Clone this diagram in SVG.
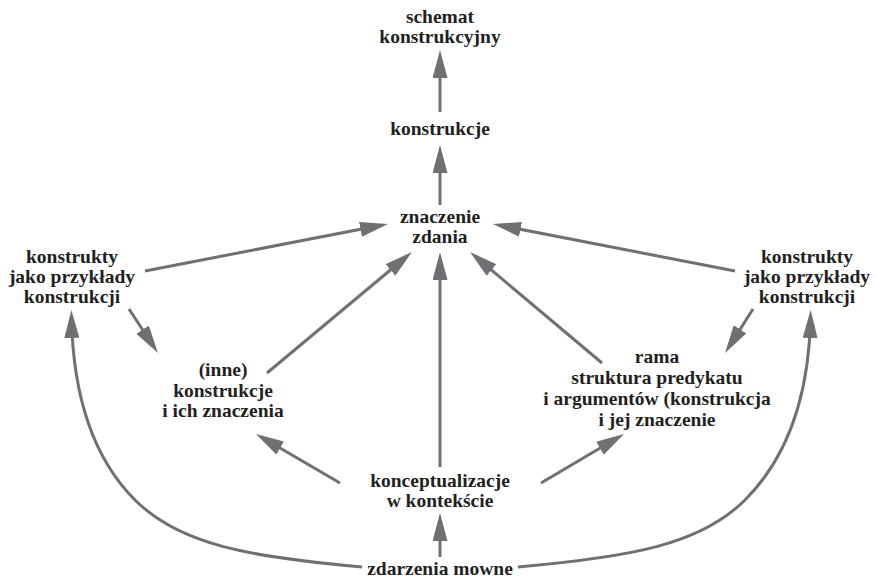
<svg xmlns="http://www.w3.org/2000/svg" width="876" height="582" viewBox="0 0 876 582">
<style>
text{font-family:"Liberation Serif","Times New Roman",serif;font-weight:bold;font-size:19.5px;fill:#231f20;text-anchor:middle}
.c{fill:none;stroke:#6f7073;stroke-width:3;marker-end:url(#ah)}
</style>
<defs>
<marker id="ah" markerUnits="userSpaceOnUse" markerWidth="30" markerHeight="16" refX="21" refY="7.5" orient="auto">
<path d="M0,0 L28,7.5 L0,15 z" fill="#6f7073"/>
</marker>
</defs>
<rect width="876" height="582" fill="#fff"/>
<g id="connectors">
<line class="c" x1="440" y1="112" x2="440" y2="57"/>
<line class="c" x1="440" y1="205" x2="440" y2="152"/>
<line class="c" x1="145" y1="271" x2="381.1" y2="225.3"/>
<line class="c" x1="735" y1="271" x2="499.9" y2="225.3"/>
<line class="c" x1="129" y1="309" x2="154.1" y2="347.2"/>
<line class="c" x1="753" y1="309" x2="728.8" y2="347.1"/>
<line class="c" x1="267" y1="373" x2="406.6" y2="256.5"/>
<line class="c" x1="602" y1="363" x2="475.4" y2="256.5"/>
<line class="c" x1="440" y1="467" x2="440" y2="259"/>
<line class="c" x1="340" y1="483" x2="262" y2="437.5"/>
<line class="c" x1="541" y1="483" x2="618" y2="437.5"/>
<line class="c" x1="440" y1="557" x2="440" y2="520"/>
<path class="c" d="M362 567 C250 557 180 545 135 500 C95 460 73 400 71.5 317"/>
<path class="c" d="M518 567 C630 557 700 545 745 500 C785 460 809 400 810.5 317"/>
</g>
<g id="schemat"><text x="440" y="23">schemat</text><text x="440" y="43">konstrukcyjny</text></g>
<g id="konstrukcje"><text x="440" y="135">konstrukcje</text></g>
<g id="znaczenie"><text x="440" y="223">znaczenie</text><text x="440" y="243">zdania</text></g>
<g id="konstrukty-left"><text x="72" y="263">konstrukty</text><text x="72" y="283">jako przykłady</text><text x="72" y="303">konstrukcji</text></g>
<g id="konstrukty-right"><text x="807" y="263">konstrukty</text><text x="807" y="283">jako przykłady</text><text x="807" y="303">konstrukcji</text></g>
<g id="inne"><text x="223" y="376">(inne)</text><text x="223" y="397">konstrukcje</text><text x="223" y="417">i ich znaczenia</text></g>
<g id="rama"><text x="657" y="363">rama</text><text x="657" y="384">struktura predykatu</text><text x="657" y="405">i argumentów (konstrukcja</text><text x="657" y="426">i jej znaczenie</text></g>
<g id="konceptualizacje"><text x="440" y="487">konceptualizacje</text><text x="440" y="507">w kontekście</text></g>
<g id="zdarzenia"><text x="440" y="575">zdarzenia mowne</text></g>
</svg>
